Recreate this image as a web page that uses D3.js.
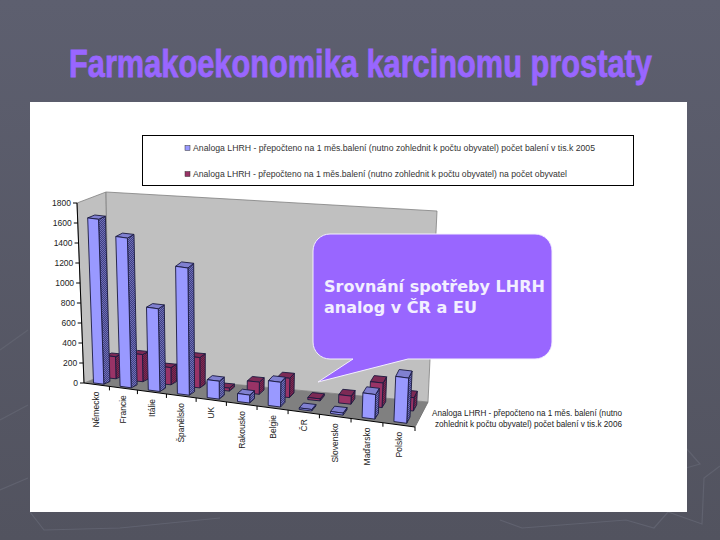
<!DOCTYPE html>
<html lang="cs">
<head>
<meta charset="utf-8">
<script src="https://cdn.jsdelivr.net/npm/d3@7"></script>
<style>html,body{margin:0;padding:0;background:#5a5c6a}svg{display:block}</style>
</head>
<body>
<svg id="c" width="720" height="540"></svg>
<script>
const categories = ["Německo","Francie","Itálie","Španělsko","UK","Rakousko","Belgie","ČR","Slovensko","Maďarsko","Polsko"];
const seriesBlue = [1650,1500,830,1280,180,80,250,15,20,250,460];
const seriesRed = [220,270,170,300,30,120,190,20,80,240,130];
const yTicks = [0,200,400,600,800,1000,1200,1400,1600,1800];
const seriesNames = [
  "Analoga LHRH - přepočteno na 1 měs.balení (nutno zohlednit k počtu obyvatel) počet balení v tis.k 2005",
  "Analoga LHRH - přepočteno na 1 měs.balení (nutno zohlednit k počtu obyvatel) na počet obyvatel"
];
const depthLabel = ["Analoga LHRH - přepočteno na 1 měs. balení (nutno","zohlednit k počtu obyvatel) počet balení v tis.k 2006"];
const titleText = "Farmakoekonomika karcinomu prostaty";
const calloutLines = ["Srovnání spotřeby LHRH","analog v ČR a EU"];

const svg = d3.select("#c");
const defs = svg.append("defs");

const bg = defs.append("linearGradient").attr("id","bg").attr("x1",0).attr("y1",0).attr("x2",0).attr("y2",1);
bg.append("stop").attr("offset",0).attr("stop-color","#5d5f6f");
bg.append("stop").attr("offset",1).attr("stop-color","#52535f");

function hatch(id,a,b){
  const p = defs.append("pattern").attr("id",id).attr("width",2).attr("height",2).attr("patternUnits","userSpaceOnUse");
  p.append("rect").attr("width",2).attr("height",2).attr("fill",a);
  p.append("rect").attr("width",1).attr("height",1).attr("fill",b);
  p.append("rect").attr("x",1).attr("y",1).attr("width",1).attr("height",1).attr("fill",b);
}
hatch("hBlue","#3f3f80","#7070b8");
hatch("hRed","#5e1d40","#7d2a55");

svg.append("rect").attr("width",720).attr("height",540).attr("fill","url(#bg)");

// faint slide-background ornaments
const ghost = [
  [[500,520],[522,528],[626,520],[654,528],[668,512],[702,524],[704,478],[720,466]],
  [[686,448],[700,464],[686,468]],
  [[0,350],[28,330]],[[0,420],[28,405]],[[0,490],[28,478]],
  [[30,512],[44,530],[120,528],[220,518]]
];
svg.append("g").selectAll("path").data(ghost).join("path")
  .attr("d",d3.line()).attr("fill","none").attr("stroke","#60626f").attr("stroke-width",1.2);

// title, condensed horizontally to the reference's width
const title = svg.append("text").text(titleText)
  .attr("font-family","'Liberation Sans',sans-serif")
  .attr("font-weight",700).attr("font-size",38).attr("fill","#9966ff").attr("stroke","#9966ff").attr("stroke-width",0.8);
const titleScale = 583 / title.node().getComputedTextLength();
title.attr("transform",`translate(69,77) scale(${titleScale},1)`);

// white panel
svg.append("rect").attr("x",30).attr("y",102).attr("width",657).attr("height",410).attr("fill","#fff");

// legend
const legend = svg.append("g");
legend.append("rect").attr("x",142.5).attr("y",135.5).attr("width",491).attr("height",50).attr("fill","#fff").attr("stroke","#000");
const legendY = d3.scalePoint().domain(seriesNames).range([150,176]);
const legendColor = d3.scaleOrdinal().domain(seriesNames).range(["#9999ff","#993366"]);
const legendLen = d3.scaleOrdinal().domain(seriesNames).range([402,374]);
legend.selectAll("rect.sw").data(seriesNames).join("rect").attr("class","sw")
  .attr("x",185).attr("y",d=>legendY(d)-4.5).attr("width",5).attr("height",5)
  .attr("fill",d=>legendColor(d)).attr("stroke","#333").attr("stroke-width",0.5);
legend.selectAll("text").data(seriesNames).join("text").text(d=>d)
  .attr("x",193).attr("y",d=>legendY(d)+1)
  .attr("textLength",d=>legendLen(d)).attr("lengthAdjust","spacingAndGlyphs")
  .attr("font-family","'Liberation Sans',sans-serif").attr("font-size",8.5).attr("fill","#333");

// 3D frame: trilinear mapping from (u along categories, v depth, h height) to the page
const corners = {
  fb0:[84,383], bb0:[109,373], fb1:[415,427], bb1:[428,402],
  ft0:[77,203], bt0:[106,192], ft1:[423,252], bt1:[437,211]
};
const lerp = (a,b,t)=>[a[0]+(b[0]-a[0])*t,a[1]+(b[1]-a[1])*t];
function project(u,v,h){
  const b = lerp(lerp(corners.fb0,corners.bb0,v),lerp(corners.fb1,corners.bb1,v),u);
  const t = lerp(lerp(corners.ft0,corners.bt0,v),lerp(corners.ft1,corners.bt1,v),u);
  return lerp(b,t,h);
}
const perspective = d3.scalePow().exponent(1.07).domain([0,1]).range([0,1]);
const band = d3.scaleBand().domain(categories).range([0,1]);
const yScale = d3.scaleLinear().domain([0,1800]).range([0,1]);
const P = (u,v,val)=>project(perspective(u),v,yScale(val));
const poly = pts=>"M"+pts.map(p=>p.map(n=>n.toFixed(1)).join(",")).join("L")+"Z";

const chart = svg.append("g");
chart.append("path").attr("d",poly([P(0,0,0),P(0,1,0),P(0,1,1800),P(0,0,1800)])).attr("fill","#c0c0c0").attr("stroke","#808080").attr("stroke-width",0.8);
chart.append("path").attr("d",poly([P(0,1,0),P(1,1,0),P(1,1,1800),P(0,1,1800)])).attr("fill","#c0c0c0").attr("stroke","#808080").attr("stroke-width",0.8);
chart.append("path").attr("d",poly([P(0,0,0),P(1,0,0),P(1,1,0),P(0,1,0)])).attr("fill","#808080");

// axes
const axisG = svg.append("g");
axisG.append("path").attr("d",d3.line()([P(0,0,0),P(0,0,1800)])).attr("stroke","#000").attr("fill","none");
axisG.append("path").attr("d",d3.line()([P(0,0,0),P(1,0,0)])).attr("stroke","#000").attr("fill","none");
axisG.append("path").attr("d",d3.line()([P(1,0,0),P(1,1,0)])).attr("stroke","#777").attr("fill","none");
axisG.selectAll("line.yt").data(yTicks).join("line").attr("class","yt")
  .attr("x1",d=>P(0,0,d)[0]-4).attr("x2",d=>P(0,0,d)[0])
  .attr("y1",d=>P(0,0,d)[1]).attr("y2",d=>P(0,0,d)[1]).attr("stroke","#000");
axisG.selectAll("text.yl").data(yTicks).join("text").attr("class","yl")
  .text(d=>String(d))
  .attr("x",d=>P(0,0,d)[0]-6).attr("y",d=>P(0,0,d)[1]+3)
  .attr("text-anchor","end").attr("font-family","'Liberation Sans',sans-serif").attr("font-size",8.5).attr("fill","#222");
axisG.selectAll("line.xt").data(d3.range(1,categories.length+1)).join("line").attr("class","xt")
  .attr("x1",i=>P(i/categories.length,0,0)[0]).attr("x2",i=>P(i/categories.length,0,0)[0])
  .attr("y1",i=>P(i/categories.length,0,0)[1]).attr("y2",i=>P(i/categories.length,0,0)[1]+4).attr("stroke","#000");
axisG.selectAll("text.xl").data(categories).join("text").attr("class","xl").text(d=>d)
  .attr("transform",d=>{const p=P(band(d)+band.bandwidth()/2,0,0);return `translate(${p[0]+3},${p[1]+7}) rotate(-90)`;})
  .attr("text-anchor","end").attr("font-family","'Liberation Sans',sans-serif").attr("font-size",8.5).attr("fill","#222");
svg.append("g").selectAll("text").data(depthLabel).join("text").text(d=>d)
  .attr("x",(d,i)=>i?435:432).attr("y",(d,i)=>416+i*11)
  .attr("textLength",(d,i)=>i?187:190).attr("lengthAdjust","spacingAndGlyphs")
  .attr("font-family","'Liberation Sans',sans-serif").attr("font-size",8.5).attr("fill","#222");

// bars
function bars(values,v0,v1,front,side,top){
  const g = chart.append("g");
  categories.forEach((c,i)=>{
    const val = values[i];
    const u0 = band(c)+band.bandwidth()*0.3, u1 = band(c)+band.bandwidth()*0.7;
    const bar = g.append("g").attr("stroke","#1a1a40").attr("stroke-width",0.9).attr("stroke-linejoin","round");
    bar.append("path").attr("d",poly([P(u1,v0,0),P(u1,v1,0),P(u1,v1,val),P(u1,v0,val)])).attr("fill",side);
    bar.append("path").attr("d",poly([P(u0,v0,val),P(u1,v0,val),P(u1,v1,val),P(u0,v1,val)])).attr("fill",top);
    bar.append("path").attr("d",poly([P(u0,v0,0),P(u1,v0,0),P(u1,v0,val),P(u0,v0,val)])).attr("fill",front);
  });
}
bars(seriesRed,0.6,0.85,"#993366","url(#hRed)","#7d2a55");
bars(seriesBlue,0.1,0.35,"#9999ff","url(#hBlue)","#8080d0");

// callout
const tailTip=[318,382];
const x0=313,x1=552,y0=234,y1=359,r=17;
const callPath = d3.path();
callPath.moveTo(x0+r,y0);
callPath.lineTo(x1-r,y0); callPath.arcTo(x1,y0,x1,y0+r,r);
callPath.lineTo(x1,y1-r); callPath.arcTo(x1,y1,x1-r,y1,r);
callPath.lineTo(408,y1); callPath.lineTo(tailTip[0],tailTip[1]); callPath.lineTo(353,y1);
callPath.lineTo(x0+r,y1); callPath.arcTo(x0,y1,x0,y1-r,r);
callPath.lineTo(x0,y0+r); callPath.arcTo(x0,y0,x0+r,y0,r);
callPath.closePath();
svg.append("path").attr("d",callPath.toString()).attr("fill","#9966ff").attr("stroke","#f4f0ff").attr("stroke-width",1);
svg.append("g").selectAll("text").data(calloutLines).join("text").text(d=>d)
  .attr("x",324).attr("y",(d,i)=>292+i*21)
  .attr("textLength",(d,i)=>i?153:221).attr("lengthAdjust","spacingAndGlyphs")
  .attr("font-family","'DejaVu Sans',sans-serif").attr("font-weight",700).attr("font-size",15.5).attr("fill","#f2efff");
</script>
</body>
</html>
